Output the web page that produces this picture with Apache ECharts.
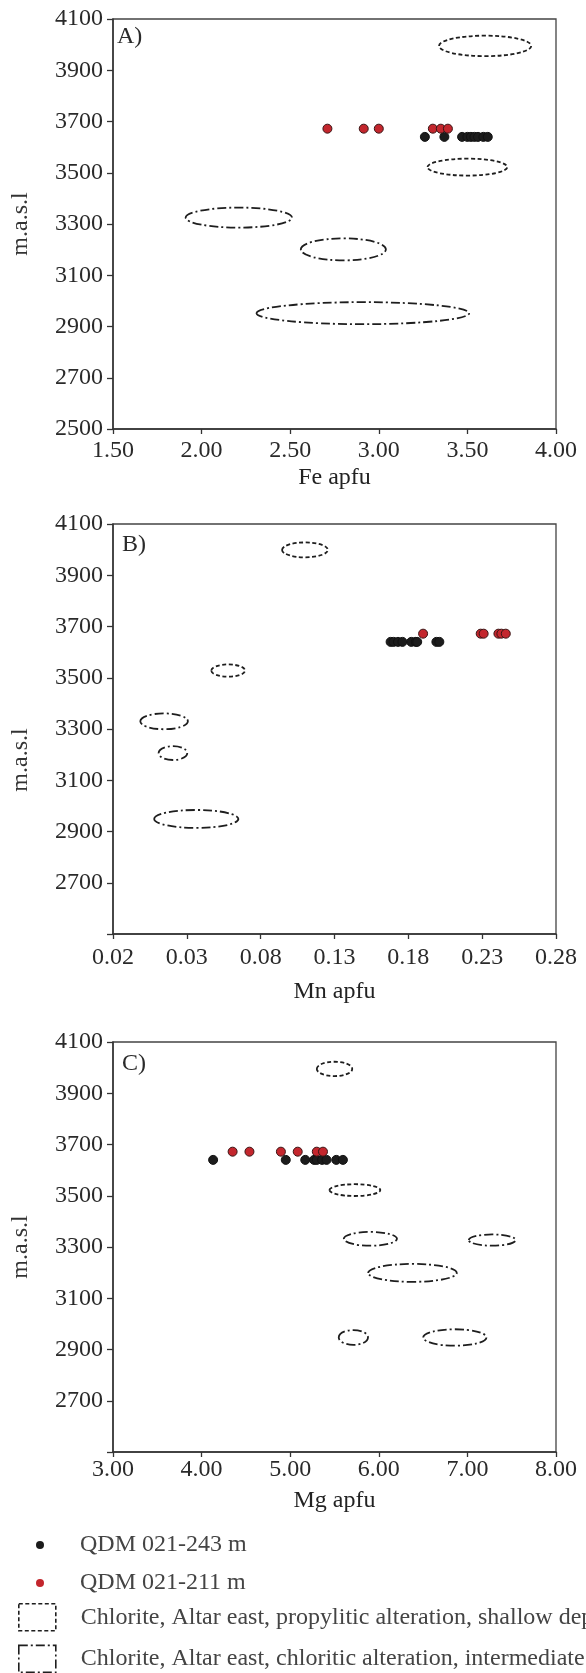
<!DOCTYPE html>
<html>
<head>
<meta charset="utf-8">
<script src="https://cdn.jsdelivr.net/npm/echarts@6/dist/echarts.min.js"></script>
<style>
html,body{margin:0;padding:0;background:#fff;}
#chart{width:586px;height:1673px;}
</style>
</head>
<body>
<div id="chart"></div>
<script>
// ---------- DATA ----------
const seriesNames = ['QDM 021-243 m', 'QDM 021-211 m',
  'Chlorite, Altar east, propylitic alteration, shallow depth',
  'Chlorite, Altar east, chloritic alteration, intermediate depth'];

// elevations (m.a.s.l) of the two samples
const elevBlack = [3640, 3640, 3640, 3640, 3640, 3640, 3640, 3640, 3640];
const elevRed = [3672, 3672, 3672, 3672, 3672, 3672];

// Panel A: Fe apfu
const feBlack = [3.26, 3.37, 3.47, 3.50, 3.52, 3.54, 3.56, 3.59, 3.615];
const feRed = [2.71, 2.915, 3.00, 3.305, 3.35, 3.39];
// ellipses: [centre x, centre elevation, half-width x, half-height elevation]
const feProp = [[3.60, 3995, 0.26, 40], [3.50, 3522, 0.225, 33]];
const feChl = [[2.21, 3325, 0.30, 39], [2.80, 3201, 0.24, 43], [2.91, 2952, 0.60, 43]];

// Panel B: Mn apfu
const mnBlack = [0.168, 0.170, 0.173, 0.176, 0.182, 0.185, 0.186, 0.199, 0.201];
const mnRed = [0.190, 0.229, 0.231, 0.241, 0.243, 0.246];
const mnProp = [[0.110, 3999, 0.0155, 29], [0.058, 3528, 0.0114, 24]];
const mnChl = [[0.0146, 3330, 0.0161, 31], [0.0206, 3206, 0.0097, 27], [0.0364, 2949, 0.0285, 35]];

// Panel C: Mg apfu
const mgBlack = [4.13, 4.95, 5.17, 5.27, 5.30, 5.36, 5.41, 5.52, 5.595];
const mgRed = [4.35, 4.54, 4.895, 5.085, 5.30, 5.37];
const mgProp = [[5.50, 3995, 0.20, 28], [5.73, 3522, 0.287, 23]];
const mgChl = [[5.905, 3332, 0.30, 27], [7.28, 3327, 0.264, 22], [6.38, 3199, 0.50, 35],
               [5.713, 2947, 0.165, 29], [6.858, 2947, 0.357, 32]];

// axis ticks
const elevTicks = [2500, 2700, 2900, 3100, 3300, 3500, 3700, 3900, 4100];
const elevLabelsA = [2500, 2700, 2900, 3100, 3300, 3500, 3700, 3900, 4100];
const elevLabelsBC = [2700, 2900, 3100, 3300, 3500, 3700, 3900, 4100];
const feTicks = [1.5, 2.0, 2.5, 3.0, 3.5, 4.0];
const mnTicks = [-0.02, 0.03, 0.08, 0.13, 0.18, 0.23, 0.28];
const mnTickLabels = ['0.02', '0.03', '0.08', '0.13', '0.18', '0.23', '0.28'];
const mgTicks = [3, 4, 5, 6, 7, 8];

const xNames = ['Fe apfu', 'Mn apfu', 'Mg apfu'];
const panelLabels = ['A)', 'B)', 'C)'];
const yName = 'm.a.s.l';

// ---------- STYLE ----------
const FONT = 'Liberation Serif';
const FS = 24;
const AX = '#333';
const DASH_PROP = [4, 2.5];
const DASH_CHL = [9, 3, 2, 3];

const grids = [
  {left: 113, right: 30, top: 19, height: 410},
  {left: 113, right: 30, top: 524, height: 410},
  {left: 113, right: 30, top: 1042, height: 410}
];

function zip(xs, ys) { return xs.map((x, i) => [x, ys[i]]); }

function yAxis(idx, labels, namePad) {
  return {
    type: 'value', gridIndex: idx, min: 2500, max: 4100,
    name: yName, nameLocation: 'middle', nameGap: 80,
    nameTextStyle: {fontFamily: FONT, fontSize: FS, color: '#333', padding: namePad},
    axisLine: {show: true, onZero: false, lineStyle: {color: AX, width: 1.5}},
    axisTick: {show: true, inside: false, length: 6, customValues: elevTicks, lineStyle: {color: AX, width: 1.3}},
    axisLabel: {customValues: labels, margin: 10, fontFamily: FONT, fontSize: FS, color: '#2a2a2a',
      formatter: v => String(Math.round(v))},
    splitLine: {show: false}
  };
}

function xAxis(idx, min, max, ticks, fmt, nameGap, labelMargin) {
  return {
    type: 'value', gridIndex: idx, min: min, max: max,
    name: xNames[idx], nameLocation: 'middle', nameGap: nameGap,
    nameTextStyle: {fontFamily: FONT, fontSize: FS, color: '#222'},
    axisLine: {show: true, onZero: false, lineStyle: {color: AX, width: 1.5}},
    axisTick: {show: true, length: 5, customValues: ticks, lineStyle: {color: AX, width: 1.3}},
    axisLabel: {customValues: ticks, margin: labelMargin, fontFamily: FONT, fontSize: FS, color: '#2a2a2a',
      formatter: fmt, showMinLabel: true, showMaxLabel: true},
    splitLine: {show: false}
  };
}

function ellipseSeries(idx, name, data, dash) {
  return {
    type: 'custom', name: name, xAxisIndex: idx, yAxisIndex: idx,
    data: data, z: 2,
    itemStyle: {color: '#222'},
    renderItem: function (params, api) {
      const c = api.coord([api.value(0), api.value(1)]);
      const s = api.size([api.value(2), api.value(3)]);
      return {
        type: 'ellipse',
        shape: {cx: c[0], cy: c[1], rx: s[0], ry: s[1]},
        style: {fill: 'none', stroke: '#1e1e1e', lineWidth: 1.8, lineDash: dash}
      };
    }
  };
}

function scatterSeries(idx, name, data, color, border) {
  return {
    type: 'scatter', name: name, xAxisIndex: idx, yAxisIndex: idx,
    data: data, symbolSize: 9, z: 5,
    itemStyle: {color: color, borderColor: border, borderWidth: 1, opacity: 1}
  };
}

const panels = [
  {x: feBlack, xr: feRed, prop: feProp, chl: feChl},
  {x: mnBlack, xr: mnRed, prop: mnProp, chl: mnChl},
  {x: mgBlack, xr: mgRed, prop: mgProp, chl: mgChl}
];

const series = [];
panels.forEach((p, i) => {
  series.push(ellipseSeries(i, seriesNames[2], p.prop, DASH_PROP));
  series.push(ellipseSeries(i, seriesNames[3], p.chl, DASH_CHL));
  series.push(scatterSeries(i, seriesNames[0], zip(p.x, elevBlack), '#1c1c1c', '#111'));
  series.push(scatterSeries(i, seriesNames[1], zip(p.xr, elevRed), '#c3262d', '#3a1414'));
});

const option = {
  backgroundColor: '#fff',
  animation: false,
  title: [
    {text: panelLabels[0], left: 117, top: 25, padding: 0},
    {text: panelLabels[1], left: 122, top: 533, padding: 0},
    {text: panelLabels[2], left: 122, top: 1052, padding: 0}
  ].map(t => Object.assign(t, {textStyle: {fontFamily: FONT, fontSize: FS, fontWeight: 'normal', color: '#2a2a2a'}})),
  grid: grids.map(g => Object.assign({show: true, borderColor: '#444', borderWidth: 1.3, backgroundColor: 'transparent'}, g)),
  xAxis: [
    xAxis(0, 1.5, 4.0, feTicks, v => v.toFixed(2), 37, 10),
    xAxis(1, -0.02, 0.28, mnTicks, v => {
      let k = 0, best = 1e9;
      mnTicks.forEach((t, j) => { const d = Math.abs(t - v); if (d < best) { best = d; k = j; } });
      return mnTickLabels[k];
    }, 46, 12),
    xAxis(2, 3, 8, mgTicks, v => v.toFixed(2), 37, 6)
  ],
  yAxis: [
    yAxis(0, elevLabelsA, [0, 0, 0, 0]),
    yAxis(1, elevLabelsBC, [0, 62, 0, 0]),
    yAxis(2, elevLabelsBC, [0, 0, 0, 0])
  ],
  legend: [
    {
      orient: 'vertical', left: 31, top: 1528, height: 200, itemGap: 14,
      itemWidth: 8, itemHeight: 8,
      data: [
        {name: seriesNames[0], icon: 'circle', itemStyle: {color: '#1c1c1c', borderWidth: 0}},
        {name: seriesNames[1], icon: 'circle', itemStyle: {color: '#c3262d', borderWidth: 0}}
      ],
      textStyle: {fontFamily: FONT, fontSize: FS, color: '#444', padding: [0, 0, 0, 31]},
      selectedMode: false
    },
    {
      orient: 'vertical', left: 13, top: 1598, height: 200, itemGap: 13,
      itemWidth: 37, itemHeight: 27,
      data: [
        {name: seriesNames[2], icon: 'rect', itemStyle: {color: 'rgba(0,0,0,0)', borderColor: '#1e1e1e', borderWidth: 1.6, borderType: DASH_PROP}},
        {name: seriesNames[3], icon: 'rect', itemStyle: {color: 'rgba(0,0,0,0)', borderColor: '#1e1e1e', borderWidth: 1.6, borderType: DASH_CHL}}
      ],
      textStyle: {fontFamily: FONT, fontSize: FS, color: '#444', padding: [0, 0, 0, 20]},
      selectedMode: false
    }
  ],
  series: series
};

const chart = echarts.init(document.getElementById('chart'), null, {renderer: 'canvas'});
chart.setOption(option);
</script>
</body>
</html>
